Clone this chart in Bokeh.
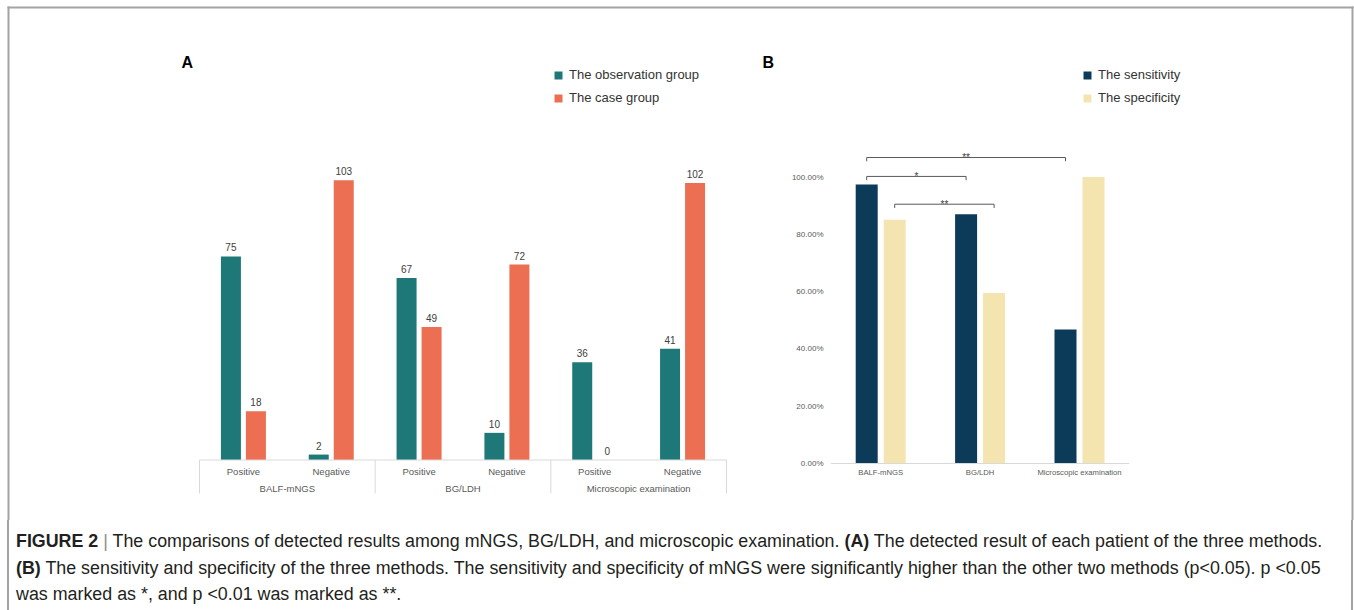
import numpy as np
from bokeh.plotting import figure
from bokeh.models import Range1d, ColumnDataSource, Legend, LegendItem, Div
from bokeh.layouts import column
from bokeh.core.properties import value
from bokeh.embed import file_html
from bokeh.resources import INLINE

# ---------------- data ----------------
methods = ["BALF-mNGS", "BG/LDH", "Microscopic examination"]
results = ["Positive", "Negative"]
# order: BALF pos, BALF neg, BG pos, BG neg, Micro pos, Micro neg
observation_group = [75, 2, 67, 10, 36, 41]
case_group = [18, 103, 49, 72, 0, 102]

sensitivity = [97.40, 87.01, 46.75]
specificity = [85.12, 59.50, 100.00]
pct_ticks = [0, 20, 40, 60, 80, 100]
pct_tick_labels = ["0.00%", "20.00%", "40.00%", "60.00%", "80.00%", "100.00%"]
# (method i, series, method j, series, height %, mark)
brackets = [
    (0, "sens", 2, "sens", 106.8, "**"),
    (0, "sens", 1, "sens", 100.2, "*"),
    (0, "spec", 1, "spec", 90.5, "**"),
]

TEAL = "#1e7878"
ORANGE = "#ec6f53"
NAVY = "#0c3b5a"
BEIGE = "#f4e4b0"
GRAYTXT = "#595959"
AXIS = "#d9d9d9"
FRAME = "#a3a3a3"
FONTNAME = "Liberation Sans"
FONT = value(FONTNAME)

W, H = 1354, 520
PX0, PY0 = 0, 0
PX1, PY1 = PX0 + W, PY0 + H

# layout constants (page pixels)
A_X0, A_UNIT = 199.0, 87.83      # panel A: category unit width
A_BASE, A_SCALE = 459.5, 2.715   # panel A: px per count
B_X0, B_UNIT = 830.5, 99.4
B_BASE, B_SCALE = 463.0, 2.865   # px per percent

p = figure(width=W, height=H, x_range=Range1d(PX0, PX1), y_range=Range1d(PY1, PY0),
           output_backend="svg", toolbar_location=None,
           x_axis_location=None, y_axis_location=None, min_border=0,
           outline_line_color=None)
p.grid.visible = False
p.background_fill_color = "white"
p.border_fill_color = "white"

p.extra_x_ranges = {
    "xa": Range1d((PX0 - A_X0) / A_UNIT, (PX1 - A_X0) / A_UNIT),
    "xb": Range1d((PX0 - B_X0) / B_UNIT, (PX1 - B_X0) / B_UNIT),
}
p.extra_y_ranges = {
    "ya": Range1d((A_BASE - PY1) / A_SCALE, (A_BASE - PY0) / A_SCALE),
    "yb": Range1d((B_BASE - PY1) / B_SCALE, (B_BASE - PY0) / B_SCALE),
}

# ---------------- frame ----------------
p.segment(x0=[7, 8, 1352], y0=[7, 6, 6], x1=[1353, 8, 1352], y1=[7, PY1, PY1],
          line_color=FRAME, line_width=2)

# ---------------- panel A ----------------
n_cat = len(methods) * len(results)
centers = np.arange(n_cat) + 0.5
bw_a = 20 / A_UNIT
off_a = 12.5 / A_UNIT
src_a = ColumnDataSource(dict(
    xo=centers - off_a, xc=centers + off_a,
    obs=observation_group, case=case_group,
    tobs=[str(v) for v in observation_group], tcase=[str(v) for v in case_group],
))
r_obs = p.vbar(x="xo", top="obs", bottom=0, width=bw_a, source=src_a,
               fill_color=TEAL, line_color=None, x_range_name="xa", y_range_name="ya")
r_case = p.vbar(x="xc", top="case", bottom=0, width=bw_a, source=src_a,
                fill_color=ORANGE, line_color=None, x_range_name="xa", y_range_name="ya")
for xcol, tcol, ycol in (("xo", "tobs", "obs"), ("xc", "tcase", "case")):
    p.text(x=xcol, y=ycol, text=tcol, source=src_a, text_font=FONT,
           text_font_size="10px", text_color="#404040", text_align="center",
           text_baseline="bottom", y_offset=-5, x_range_name="xa", y_range_name="ya")

# axis box of panel A
n_grp = len(methods)
p.segment(x0=[0], y0=[0], x1=[n_cat], y1=[0], line_color=AXIS, line_width=1,
          x_range_name="xa", y_range_name="ya")
bounds = np.arange(n_grp + 1) * len(results)
p.segment(x0=bounds, y0=[A_BASE] * len(bounds), x1=bounds, y1=[493] * len(bounds),
          line_color=AXIS, line_width=1, x_range_name="xa")
p.text(x=centers, y=[471] * n_cat, text=results * n_grp, text_font=FONT,
       text_font_size="9.5px", text_color=GRAYTXT, text_align="center",
       text_baseline="middle", x_range_name="xa")
p.text(x=bounds[:-1] + len(results) / 2, y=[488] * n_grp, text=methods, text_font=FONT,
       text_font_size="9.5px", text_color=GRAYTXT, text_align="center",
       text_baseline="middle", x_range_name="xa")

p.text(x=[181], y=[62], text=["A"], text_font=FONT, text_font_style="bold",
       text_font_size="16px", text_color="black", text_baseline="middle")

legA = Legend(items=[LegendItem(label="The observation group", renderers=[r_obs]),
                     LegendItem(label="The case group", renderers=[r_case])],
              location=(553 - PX0, H - 105), glyph_width=10, glyph_height=10,
              label_height=13, spacing=8, padding=0, margin=0, label_standoff=6,
              border_line_color=None, background_fill_alpha=0,
              label_text_font=FONTNAME, label_text_font_size="13px", label_text_color="#333333")
p.add_layout(legA)

# ---------------- panel B ----------------
mcent = np.arange(len(methods)) + 0.5
bw_b = 22 / B_UNIT
off_b = 14 / B_UNIT
src_b = ColumnDataSource(dict(xs=mcent - off_b, xp=mcent + off_b,
                              sens=sensitivity, spec=specificity))
r_sens = p.vbar(x="xs", top="sens", bottom=0, width=bw_b, source=src_b,
                fill_color=NAVY, line_color=None, x_range_name="xb", y_range_name="yb")
r_spec = p.vbar(x="xp", top="spec", bottom=0, width=bw_b, source=src_b,
                fill_color=BEIGE, line_color=None, x_range_name="xb", y_range_name="yb")

p.segment(x0=[0], y0=[0], x1=[len(methods)], y1=[0], line_color=AXIS, line_width=1,
          x_range_name="xb", y_range_name="yb")
p.text(x=[823] * len(pct_ticks), y=pct_ticks, text=pct_tick_labels, text_font=FONT,
       text_font_size="8px", text_color=GRAYTXT, text_align="right",
       text_baseline="middle", y_range_name="yb")
p.text(x=mcent, y=[472] * len(methods), text=methods, text_font=FONT,
       text_font_size="7.7px", text_color=GRAYTXT, text_align="center",
       text_baseline="middle", x_range_name="xb")

offs = {"sens": -off_b, "spec": off_b}
drop = 1.3
bx0, by0, bx1, by1, tx, ty, tt = [], [], [], [], [], [], []
for i, si, j, sj, h, mark in brackets:
    xa_ = i + 0.5 + offs[si]
    xb_ = j + 0.5 + offs[sj]
    bx0 += [xa_, xa_, xb_]
    by0 += [h, h, h]
    bx1 += [xb_, xa_, xb_]
    by1 += [h, h - drop, h - drop]
    tx.append((xa_ + xb_) / 2)
    ty.append(h)
    tt.append(mark)
p.segment(x0=bx0, y0=by0, x1=bx1, y1=by1, line_color=GRAYTXT, line_width=1,
          x_range_name="xb", y_range_name="yb")
p.text(x=tx, y=ty, text=tt, text_font=FONT, text_font_size="10px", text_color="#404040",
       text_align="center", text_baseline="middle", y_offset=0,
       x_range_name="xb", y_range_name="yb")

p.text(x=[762], y=[62], text=["B"], text_font=FONT, text_font_style="bold",
       text_font_size="16px", text_color="black", text_baseline="middle")

legB = Legend(items=[LegendItem(label="The sensitivity", renderers=[r_sens]),
                     LegendItem(label="The specificity", renderers=[r_spec])],
              location=(1082 - PX0, H - 105), glyph_width=10, glyph_height=10,
              label_height=13, spacing=8, padding=0, margin=0, label_standoff=6,
              border_line_color=None, background_fill_alpha=0,
              label_text_font=FONTNAME, label_text_font_size="13px", label_text_color="#333333")
p.add_layout(legB)

# ---------------- caption ----------------
caption = (
    '<div style="font-family:\'Liberation Sans\',Arial,sans-serif;font-size:17.85px;'
    'line-height:26.5px;color:#231f20;padding:8px 0 0 7px;white-space:nowrap;'
    'border-left:2px solid ' + FRAME + ';border-right:2px solid ' + FRAME + ';'
    'height:90px;width:1346px;box-sizing:border-box;margin:0 0 0 7px">'
    '<b>FIGURE 2</b> <span style="color:#8c8c8c">|</span> The comparisons of detected results among '
    'mNGS, BG/LDH, and microscopic examination. <b>(A)</b> The detected result of each patient of '
    'the three methods.<br><b>(B)</b> The sensitivity and specificity of the three methods. The '
    'sensitivity and specificity of mNGS were significantly higher than the other two methods '
    '(p&lt;0.05). p &lt;0.05<br>was marked as *, and p &lt;0.01 was marked as **.</div>'
)
div = Div(text=caption, width=W, height=90, margin=(0, 0, 0, 0))

layout = column(p, div, spacing=0)
open("out.html", "w").write(file_html(layout, INLINE))
